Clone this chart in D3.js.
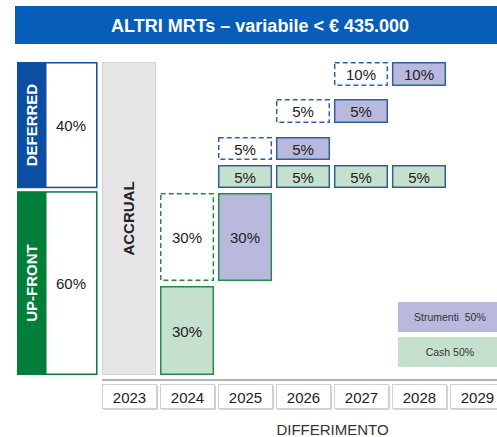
<!DOCTYPE html>
<html><head><meta charset="utf-8">
<script src="https://cdn.jsdelivr.net/npm/d3@7"></script>
<style>body{margin:0;background:#fff}svg{display:block;font-family:"Liberation Sans",Arial,sans-serif}</style>
</head><body>
<svg id="c" width="497" height="437"></svg>
<script>
// ---------- data ----------
const title = "ALTRI MRTs – variabile < € 435.000";
const years = ["2023","2024","2025","2026","2027","2028","2029"];
const splitLabels = ["UP-FRONT","DEFERRED"];
const splitValues = [60,40];
const cashYears = ["2024","2025","2026","2027","2028"];
const cashValues = [30,5,5,5,5];
const cashRows = ["up1","def1","def1","def1","def1"];
const strumentiYears = ["2025","2026","2027","2028"];
const strumentiValues = [30,5,5,10];
const strumentiRows = ["up2","def2","def3","def4"];
const retentionYears = ["2024","2025","2026","2027"];
const retentionValues = [30,5,5,10];
const retentionRows = ["up2","def2","def3","def4"];
const legendLabels = ["Strumenti  50%","Cash 50%"];
const accrualYear = "2023";
const accrualLabel = "ACCRUAL";
const axisTitle = "DIFFERIMENTO";

// ---------- layout ----------
const W = 497, H = 437;
const svg = d3.select("#c");
const C = {
  titleBg:"#075EB8", deferred:"#0B4EA2", upfront:"#007E3A",
  borderUp:"#238A4B", borderDef:"#305F9F",
  cash:"#C5E0CD", strumenti:"#B9B9DD", accrual:"#E6E6E6", accrualStroke:"#D2D2D2",
  text:"#222"
};

const x = d3.scaleBand().domain(years).range([102, 505]).paddingInner(0.05);
const y = d3.scaleLinear().domain([0,100]).range([375,62]);
const rowIds = ["up1","up2","def1","def2","def3","def4"];
const rowExt = d3.scaleOrdinal().domain(rowIds)
  .range([[286,375],[193,281],[165,188],[137,160],[99,123],[62,86]]);

// title
svg.append("rect").attr("x",15).attr("y",6).attr("width",W).attr("height",38).attr("fill",C.titleBg);
svg.append("text").attr("x",260).attr("y",25.5).attr("text-anchor","middle").attr("dominant-baseline","central")
  .attr("fill","#fff").attr("font-weight","bold").attr("font-size",18).text(title);

// left split panel
const cum = d3.cumsum(splitValues);
splitLabels.forEach((lab,i)=>{
  const lo = i===0?0:cum[i-1], hi = cum[i];
  const y0 = y(hi) + (i===0?4:0), y1 = y(lo) + (i===0?0:1);
  const col = i===0?C.upfront:C.deferred;
  svg.append("rect").attr("x",17).attr("y",y0).attr("width",28).attr("height",y1-y0).attr("fill",col);
  svg.append("rect").attr("x",45.75).attr("y",y0+0.75).attr("width",51).attr("height",y1-y0-1.5)
    .attr("fill","#fff").attr("stroke",col).attr("stroke-width",1.5);
  svg.append("text").attr("transform",`translate(31.5,${(y0+y1)/2}) rotate(-90)`)
    .attr("text-anchor","middle").attr("dominant-baseline","central")
    .attr("fill","#fff").attr("font-weight","bold").attr("font-size",15).text(lab);
  svg.append("text").attr("x",71).attr("y",(y0+y1)/2).attr("text-anchor","middle").attr("dominant-baseline","central")
    .attr("fill",C.text).attr("font-size",15).text(splitValues[i]+"%");
});

// accrual bar
svg.append("rect").attr("x",x(accrualYear)+0.5).attr("y",y(100)+0.5).attr("width",x.bandwidth()-2).attr("height",y(0)-y(100)-1)
  .attr("fill",C.accrual).attr("stroke",C.accrualStroke);
svg.append("text").attr("transform",`translate(${x(accrualYear)+x.bandwidth()/2-1},${(y(0)+y(100))/2}) rotate(-90)`)
  .attr("text-anchor","middle").attr("dominant-baseline","central")
  .attr("fill",C.text).attr("font-weight","bold").attr("font-size",15).text(accrualLabel);

// boxes
const boxes = [];
cashYears.forEach((yr,i)=>boxes.push({year:yr,value:cashValues[i],row:cashRows[i],type:"cash"}));
strumentiYears.forEach((yr,i)=>boxes.push({year:yr,value:strumentiValues[i],row:strumentiRows[i],type:"strumenti"}));
retentionYears.forEach((yr,i)=>boxes.push({year:yr,value:retentionValues[i],row:retentionRows[i],type:"retention"}));

const g = svg.append("g").selectAll("g").data(boxes).join("g");
g.append("rect")
  .attr("x",d=>x(d.year)+0.75)
  .attr("y",d=>rowExt(d.row)[0]+0.75)
  .attr("width",x.bandwidth()-2.5)
  .attr("height",d=>rowExt(d.row)[1]-rowExt(d.row)[0]-1.5)
  .attr("fill",d=>d.type==="cash"?C.cash:d.type==="strumenti"?C.strumenti:"#fff")
  .attr("stroke",d=>d.row.startsWith("up")?C.borderUp:C.borderDef)
  .attr("stroke-width",1.5)
  .attr("stroke-dasharray",d=>d.type==="retention"?"5,3":null);
g.append("text")
  .attr("x",d=>x(d.year)+(x.bandwidth()-1)/2)
  .attr("y",d=>(rowExt(d.row)[0]+rowExt(d.row)[1])/2+0.5)
  .attr("text-anchor","middle").attr("dominant-baseline","central")
  .attr("fill",C.text).attr("font-size",15).text(d=>d.value+"%");

// legend
const legFill = [C.strumenti, C.cash];
const legX = x("2028")+6, legW = 104;
legendLabels.forEach((lab,i)=>{
  const ly = 302 + i*35;
  svg.append("rect").attr("x",legX).attr("y",ly).attr("width",legW).attr("height",30).attr("fill",legFill[i]);
  svg.append("text").attr("x",legX+legW/2).attr("y",ly+15).attr("text-anchor","middle").attr("dominant-baseline","central")
    .attr("fill","#333").attr("font-size",10.5).attr("xml:space","preserve").style("white-space","pre").text(lab);
});

// year axis
svg.append("line").attr("x1",x(years[0])).attr("x2",W).attr("y1",380).attr("y2",380)
  .attr("stroke","#B4B4B4").attr("stroke-width",2);
const yg = svg.append("g").selectAll("g").data(years).join("g");
yg.append("rect").attr("x",d=>x(d)+1.5).attr("y",385.5).attr("width",x.bandwidth()-1).attr("height",24)
  .attr("fill","#A8A8A8");
yg.append("rect").attr("x",d=>x(d)+0.5).attr("y",384.5).attr("width",x.bandwidth()-1).attr("height",24)
  .attr("fill","#fff").attr("stroke","#D0D0D0");
yg.append("text").attr("x",d=>x(d)+x.bandwidth()/2).attr("y",397.5).attr("text-anchor","middle").attr("dominant-baseline","central")
  .attr("fill",C.text).attr("font-size",15).text(d=>d);

svg.append("text").attr("x",(x("2025")+x("2028")+x.bandwidth())/2).attr("y",429).attr("text-anchor","middle")
  .attr("dominant-baseline","central").attr("fill","#333").attr("font-size",15).text(axisTitle);
</script>
</body></html>
